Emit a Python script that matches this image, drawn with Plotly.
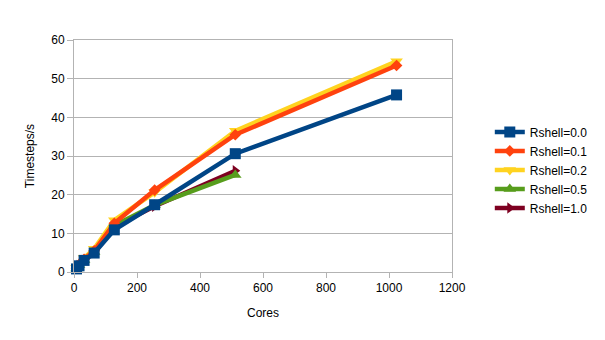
import plotly.graph_objects as go

cores = [8, 16, 32, 64, 128, 256, 512, 1024]
cores_short = [8, 16, 32, 64, 128, 256, 512]

r00 = [0.8, 1.6, 3.0, 4.9, 10.9, 17.4, 30.6, 45.8]
r01 = [1.0, 1.9, 3.3, 5.5, 12.6, 21.2, 35.5, 53.4]
r02 = [1.1, 2.1, 3.6, 6.0, 13.4, 20.6, 36.5, 54.5]
r05 = [0.9, 1.8, 3.1, 5.2, 12.0, 17.3, 25.1]
r10 = [0.9, 1.7, 3.0, 5.0, 11.7, 17.0, 26.2]

names = ["Rshell=0.0", "Rshell=0.1", "Rshell=0.2", "Rshell=0.5", "Rshell=1.0"]
colors = ["#004586", "#ff420e", "#ffd320", "#579d1c", "#7e0021"]
symbols = ["square", "diamond", "triangle-down", "triangle-up", "triangle-right"]
sizes = [11, 9, 11, 11, 10]
xs = [cores, cores, cores, cores_short, cores_short]
ys = [r00, r01, r02, r05, r10]

fig = go.Figure()
for i in reversed(range(5)):
    fig.add_trace(go.Scatter(
        x=xs[i], y=ys[i], name=names[i], mode="lines+markers",
        line=dict(color=colors[i], width=4.5),
        marker=dict(symbol=symbols[i], size=sizes[i], color=colors[i]),
        cliponaxis=False,
    ))

font = dict(family="Liberation Sans, Arial, sans-serif", size=12, color="#000000")
fig.update_layout(
    width=605, height=340,
    margin=dict(l=74, r=151, t=40, b=68),
    paper_bgcolor="white", plot_bgcolor="white",
    font=font,
    showlegend=True,
    legend=dict(traceorder="reversed", x=1.1, y=0.44, xanchor="left", yanchor="middle",
                font=font, itemwidth=30, tracegroupgap=0),
    xaxis=dict(range=[0, 1200], dtick=200, showgrid=False, showline=True,
               linecolor="#b3b3b3", linewidth=1, mirror=True,
               ticks="outside", ticklen=5, tickcolor="#b3b3b3",
               zeroline=False,
               title=dict(text="Cores", font=font, standoff=14)),
    yaxis=dict(range=[0, 60], dtick=10, showgrid=True, gridcolor="#b3b3b3",
               showline=True, linecolor="#b3b3b3", linewidth=1, mirror=True,
               ticks="outside", ticklen=6, tickcolor="#b3b3b3",
               zeroline=False,
               title=dict(text="Timesteps/s", font=font, standoff=14)),
)

fig.write_html("out.html")
